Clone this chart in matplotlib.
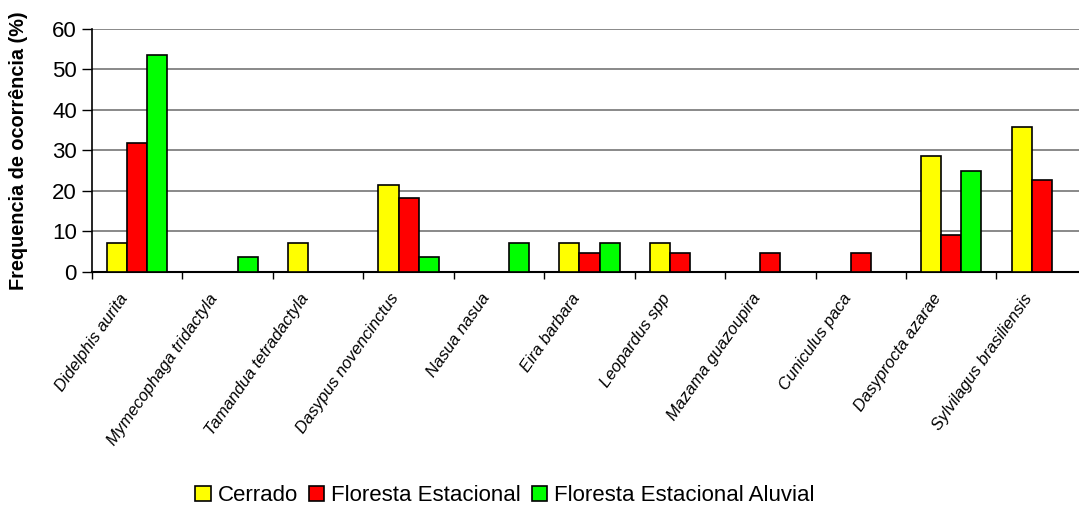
import matplotlib.pyplot as plt
import matplotlib.transforms as mtransforms
import numpy as np

plt.rcParams['font.family'] = ['Liberation Sans', 'DejaVu Sans']

# Species sampled and frequency of occurrence (%) in each vegetation type
species = ['Didelphis aurita', 'Mymecophaga tridactyla', 'Tamandua tetradactyla',
           'Dasypus novencinctus', 'Nasua nasua', 'Eira barbara', 'Leopardus spp',
           'Mazama guazoupira', 'Cuniculus paca', 'Dasyprocta azarae',
           'Sylvilagus brasiliensis']
cerrado = [7.1, 0, 7.1, 21.4, 0, 7.1, 7.1, 0, 0, 28.6, 35.7]
floresta = [31.8, 0, 0, 18.2, 0, 4.5, 4.5, 4.5, 4.5, 9.1, 22.7]
aluvial = [53.6, 3.6, 0, 3.6, 7.1, 7.1, 0, 0, 0, 25.0, 0]
series_names = ['Cerrado', 'Floresta Estacional', 'Floresta Estacional Aluvial']
colors = ['#ffff00', '#ff0000', '#00ff00']

fig = plt.figure(figsize=(10.79, 5.05), dpi=100)
ax = fig.add_axes([0.0853, 0.462, 0.922, 0.4806])

x = np.arange(len(species))
w = 1 / 4.5
for k, (vals, name, c) in enumerate(zip([cerrado, floresta, aluvial], series_names, colors)):
    ax.bar(x + (k - 1) * w, vals, width=w, color=c, edgecolor='black',
           linewidth=1.2, label=name, zorder=3)

ax.set_xlim(-0.5, len(species) - 0.5)
ax.set_ylim(0, 60)
ax.set_yticks(range(0, 61, 10))
ax.yaxis.grid(True, color='#808080', linewidth=1.3, zorder=0)
ax.tick_params(axis='y', labelsize=16, length=7, width=1, pad=4)

# category ticks sit on group boundaries, labels at group centres
ax.set_xticks(np.arange(len(species) + 1) - 0.5)
ax.set_xticklabels([])
ax.set_xticks(x, minor=True)
ax.set_xticklabels(species, minor=True, rotation=55, ha='right',
                   rotation_mode='anchor', fontsize=12, style='italic')
ax.tick_params(axis='x', which='minor', length=0, pad=14)
ax.tick_params(axis='x', which='major', length=5, width=1)
shift = mtransforms.ScaledTranslation(-0.19, 0, fig.dpi_scale_trans)
for lbl in ax.get_xticklabels(minor=True):
    lbl.set_transform(lbl.get_transform() + shift)

for s in ['top', 'right']:
    ax.spines[s].set_visible(False)
ax.spines['left'].set_linewidth(1.2)
ax.spines['bottom'].set_linewidth(1.5)

ax.set_ylabel('Frequencia de ocorrência (%)', fontsize=14.3, fontweight='bold')
ax.yaxis.set_label_coords(-0.064, 0.5)

fig.legend(loc='center', bbox_to_anchor=(0.468, 0.018), ncol=3, frameon=False,
           fontsize=16, handlelength=0.7, handleheight=0.7, handletextpad=0.3,
           columnspacing=0.5, borderaxespad=0)

fig.savefig('out.png', dpi=100)
